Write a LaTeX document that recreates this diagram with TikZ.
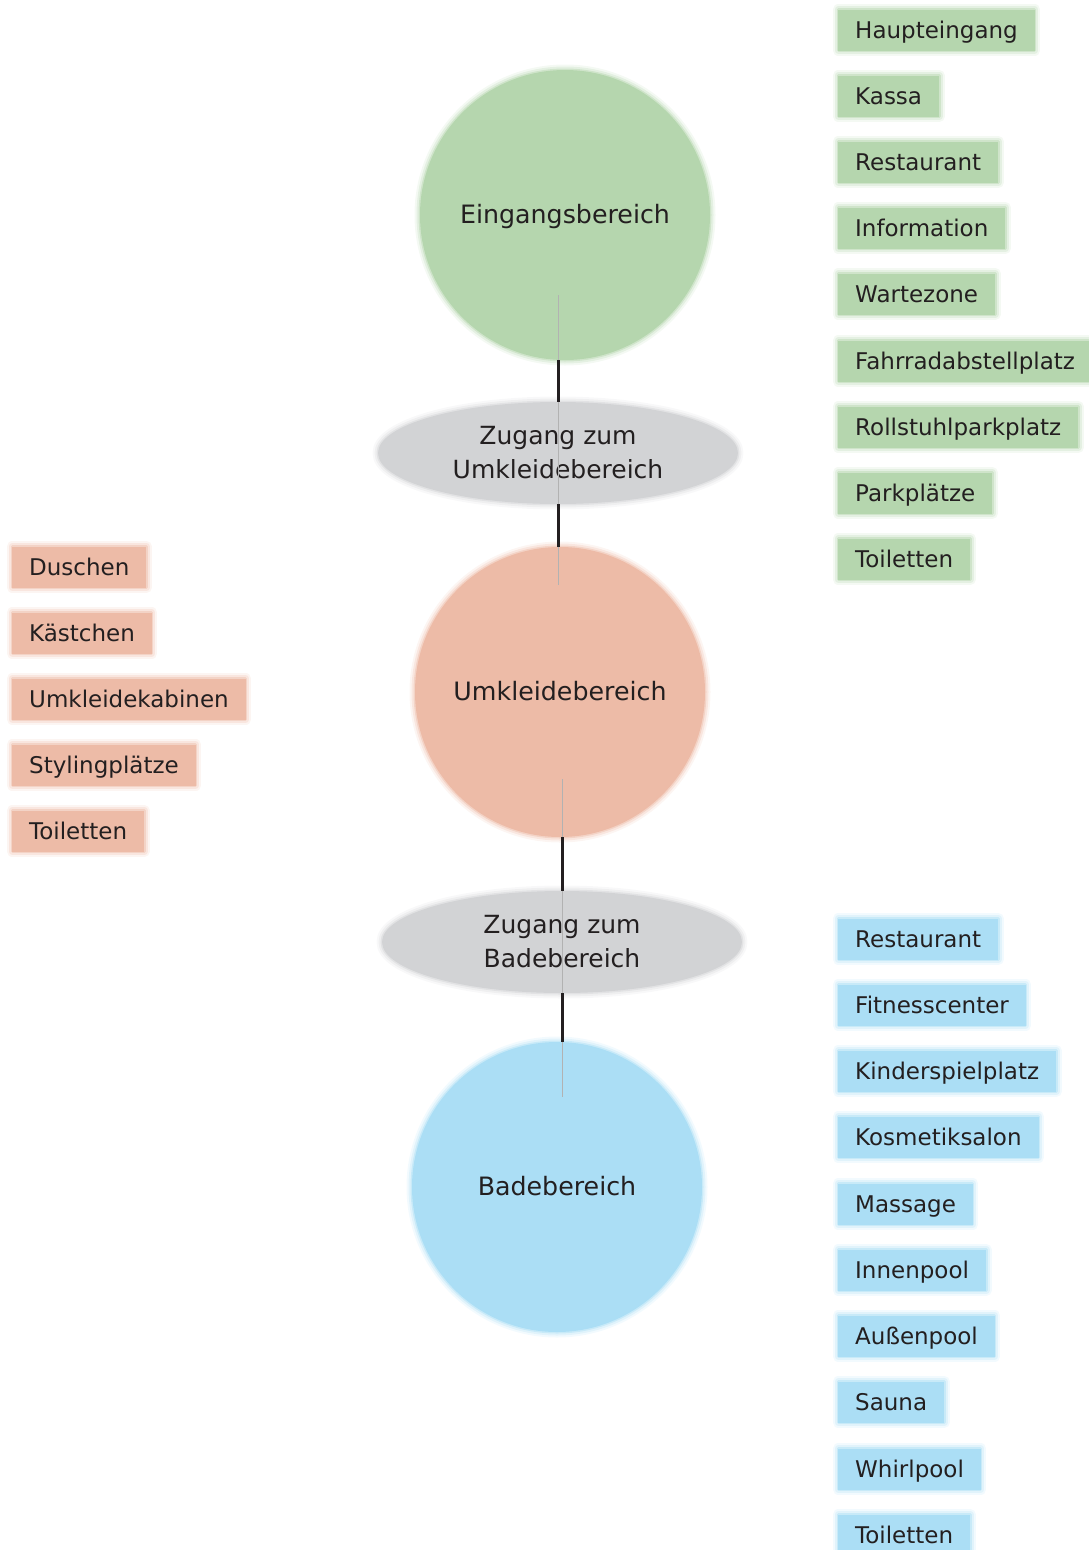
\documentclass[tikz,border=0pt]{standalone}
\usepackage{fontspec}
\setmainfont{DejaVu Sans}
\usetikzlibrary{shapes.geometric,calc}
\definecolor{cgreen}{RGB}{181,214,174}
\definecolor{corange}{RGB}{237,187,167}
\definecolor{cblue}{RGB}{171,222,245}
\definecolor{cgray}{RGB}{210,211,213}
\definecolor{ink}{RGB}{35,31,32}
\tikzset{
 glow/.style={fill=#1,
   preaction={draw=#1, line width=11pt, opacity=.15, line join=round},
   preaction={draw=#1, line width=7pt, opacity=.25, line join=round},
   preaction={draw=#1, line width=3pt, opacity=.45, line join=round}},
 area/.style={circle, minimum size=290pt, inner sep=0pt, text=ink, text height=19pt, text depth=3pt, font=\fontsize{25.3}{30}\selectfont},
 pass/.style={ellipse, minimum width=360pt, minimum height=102pt, inner sep=0pt, glow=cgray, text=ink, align=center, font=\fontsize{25}{34}\selectfont},
 tag/.style={rectangle, anchor=west, minimum height=41pt, inner xsep=17pt, inner ysep=0pt, text height=20pt, text depth=3pt, text=ink, font=\fontsize{23}{28}\selectfont},
 link/.style={draw=ink, line width=3pt},
 thread/.style={draw=black!30, line width=0.8pt},
}
\begin{document}
\begin{tikzpicture}[x=1pt,y=-1pt]
\useasboundingbox (0,0) rectangle (1089,1550);
% main areas
\node[area, glow=cgreen] (c1) at (565,215) {Eingangsbereich};
\node[pass] (e1) at (558,453) {Zugang zum\\Umkleidebereich};
\node[area, glow=corange] (c2) at (560,692) {Umkleidebereich};
\node[pass] (e2) at (562,942) {Zugang zum\\Badebereich};
\node[area, glow=cblue] (c3) at (557,1187) {Badebereich};
% connectors
\draw[thread] ($(e1.center|-c1.center)+(0,80)$) -- ($(e1.center|-c2.center)+(0,-107)$);
\draw[link] (e1.north |- c1.south) -- (e1.north);
\draw[link] (e1.south) -- (e1.south |- c2.north);
\draw[thread] ($(e2.center|-c2.center)+(0,87)$) -- ($(e2.center|-c3.center)+(0,-90)$);
\draw[link] (e2.north |- c2.south) -- (e2.north);
\draw[link] (e2.south) -- (e2.south |- c3.north);
% green tags
\foreach \t/\y [count=\i] in {Haupteingang/30, Kassa/96, Restaurant/162, Information/228, Wartezone/294, Fahrradabstellplatz/361, Rollstuhlparkplatz/427, Parkplätze/493, Toiletten/559}
  \node[tag, glow=cgreen] (g\i) at (838,\y) {\t};
% orange tags
\foreach \t/\y [count=\i] in {Duschen/567, Kästchen/633, Umkleidekabinen/699, Stylingplätze/765, Toiletten/831}
  \node[tag, glow=corange] (o\i) at (12,\y) {\t};
% blue tags
\foreach \t/\y [count=\i] in {Restaurant/939, Fitnesscenter/1005, Kinderspielplatz/1071, Kosmetiksalon/1137, Massage/1204, Innenpool/1270, Außenpool/1336, Sauna/1402, Whirlpool/1469, Toiletten/1535}
  \node[tag, glow=cblue] (b\i) at (838,\y) {\t};
\end{tikzpicture}
\end{document}
